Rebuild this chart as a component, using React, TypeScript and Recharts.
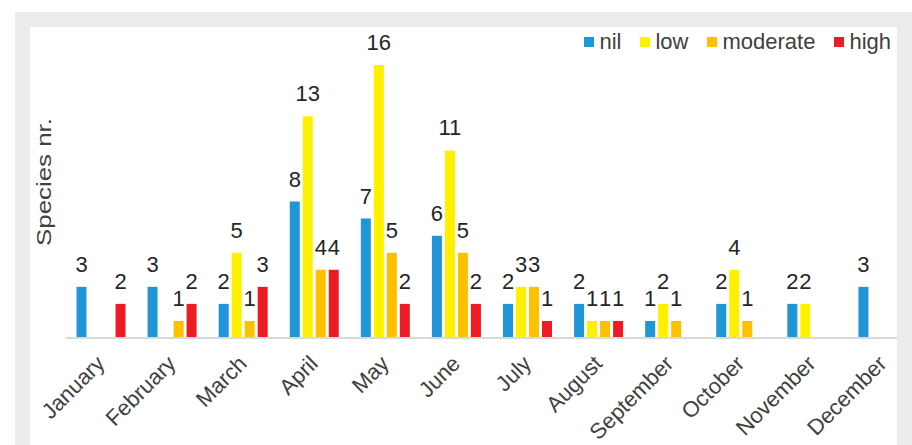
import { BarChart, Bar, XAxis, YAxis, LabelList } from "recharts";

const months = ["January", "February", "March", "April", "May", "June", "July", "August", "September", "October", "November", "December"];
const nil = [3, 3, 2, 8, 7, 6, 2, 2, 1, 2, 2, 3];
const low = [0, 0, 5, 13, 16, 11, 3, 1, 2, 4, 2, 0];
const moderate = [0, 1, 1, 4, 5, 5, 3, 1, 1, 1, 0, 0];
const high = [2, 2, 3, 4, 2, 2, 1, 1, 0, 0, 0, 0];

const seriesNames = ["nil", "low", "moderate", "high"];
const seriesColors = ["#2196d6", "#fff000", "#ffc000", "#ed1c24"];

const data = months.map((m, i) => ({
  month: m,
  nil: nil[i],
  low: low[i],
  moderate: moderate[i],
  high: high[i],
}));

const FONT = '"Liberation Sans", Arial, sans-serif';

function MonthTick(props: any) {
  const { x, y, payload } = props;
  const tx = x + 5;
  const ty = y + 19;
  return (
    <text
      x={tx}
      y={ty}
      transform={`rotate(-45, ${tx}, ${ty})`}
      textAnchor="end"
      fill="#404040"
      fontSize={22}
      fontFamily={FONT}
    >
      {payload.value}
    </text>
  );
}

export default function App() {
  return (
    <div style={{ position: "absolute", left: 0, top: 0, width: 912, height: 445, background: "#fff", overflow: "hidden" }}>
      <div style={{ position: "absolute", left: 15, top: 12, width: 897, height: 433, background: "#ececec" }} />
      <div style={{ position: "absolute", left: 30, top: 27, width: 867, height: 418, background: "#fff", overflow: "hidden" }}>
        <BarChart
          width={900}
          height={418}
          data={data}
          margin={{ top: 4, right: 11.5, left: 35.5, bottom: 0 }}
          barSize={10}
          barGap={3}
        >
          <XAxis
            dataKey="month"
            interval={0}
            tickLine={false}
            axisLine={{ stroke: "#d9d9d9", strokeWidth: 2 }}
            height={107}
            tick={<MonthTick />}
          />
          <YAxis hide domain={[0, 18]} />
          {seriesNames.map((s, i) => (
            <Bar key={s} dataKey={s} fill={seriesColors[i]} isAnimationActive={false}>
              <LabelList
                dataKey={s}
                position="top"
                offset={15}
                formatter={(v: any) => (v ? v : "")}
                fill="#262626"
                fontSize={22}
                fontFamily={FONT}
              />
            </Bar>
          ))}
        </BarChart>
        <svg style={{ position: "absolute", left: 0, top: 0 }} width={60} height={300}>
          <text
            x={21}
            y={155}
            transform="rotate(-90, 21, 155)"
            textAnchor="middle"
            fill="#404040"
            fontSize={21}
            fontFamily={FONT}
            textLength={128}
            lengthAdjust="spacingAndGlyphs"
          >
            Species nr.
          </text>
        </svg>
        <div
          style={{
            position: "absolute",
            right: 6,
            top: 2,
            display: "flex",
            alignItems: "center",
            fontFamily: FONT,
            fontSize: 22,
            color: "#404040",
          }}
        >
          {seriesNames.map((s, i) => (
            <div key={s} style={{ display: "flex", alignItems: "center", marginLeft: i === 0 ? 0 : 19 }}>
              <span style={{ width: 10, height: 10, background: seriesColors[i], marginRight: 5, display: "inline-block" }} />
              <span>{s}</span>
            </div>
          ))}
        </div>
      </div>
    </div>
  );
}
